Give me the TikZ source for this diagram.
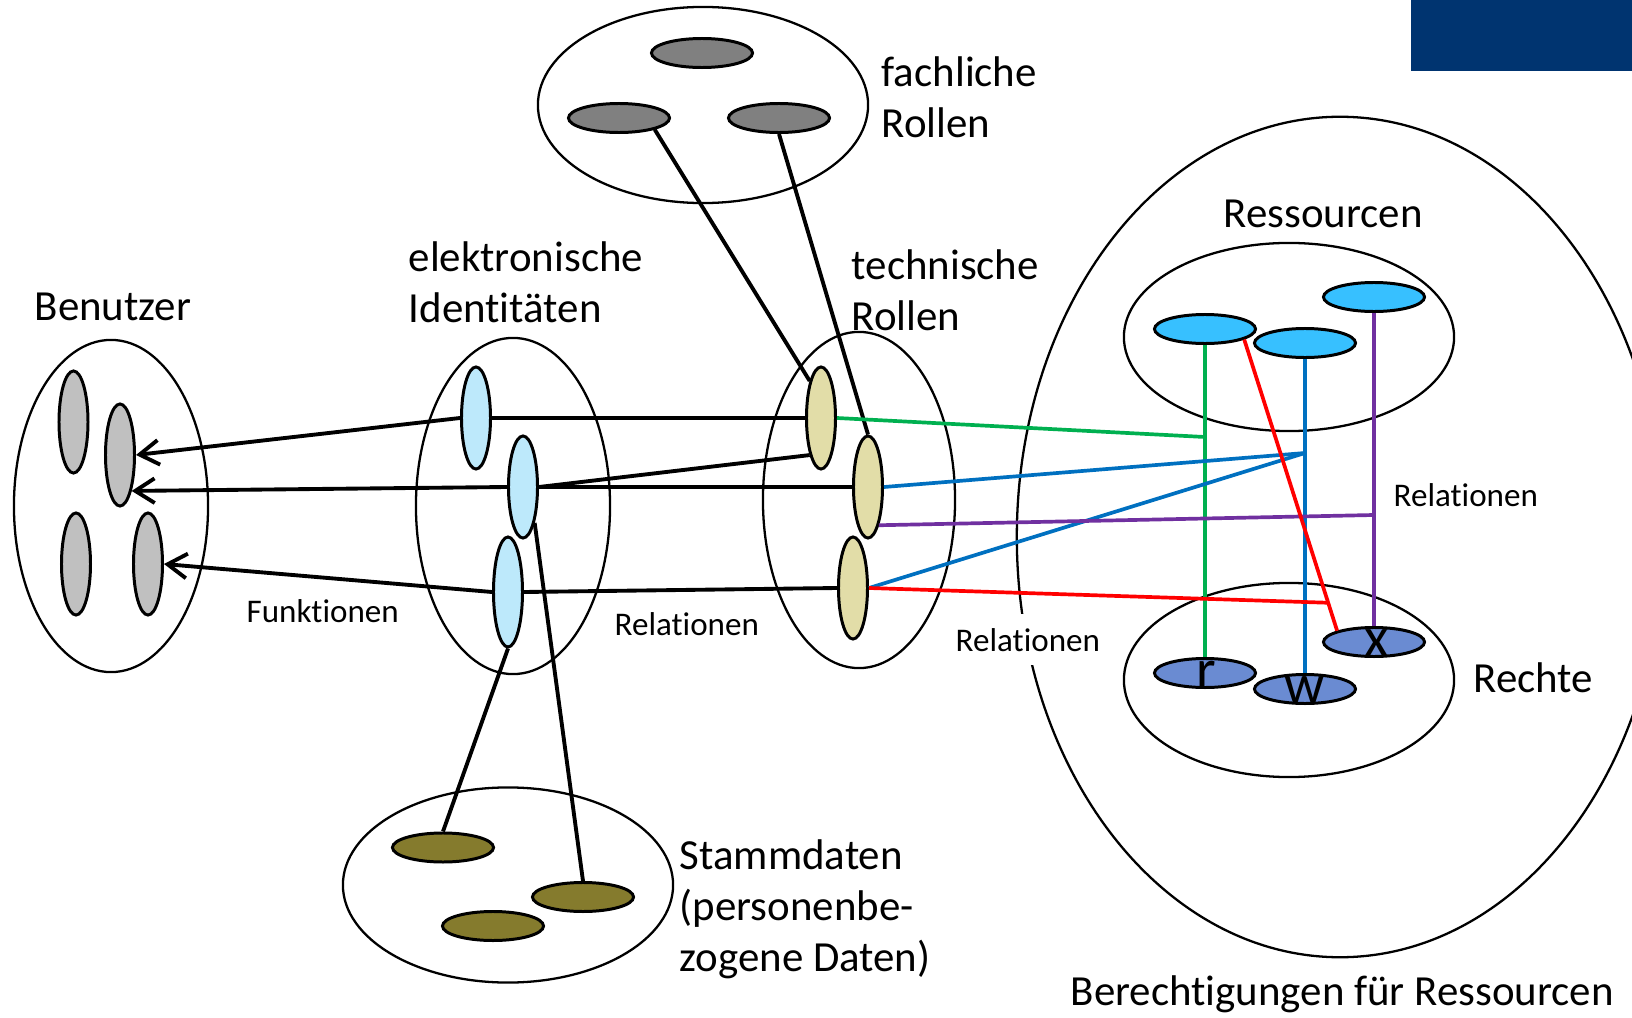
\documentclass[tikz,border=0pt]{standalone}
\usepackage{fontspec}
\setmainfont[Ligatures=NoCommon]{Carlito}
\usetikzlibrary{arrows.meta,calc,shapes.geometric}
\definecolor{usergray}{HTML}{C0C0C0}
\definecolor{idblue}{HTML}{BDE9FB}
\definecolor{roletan}{HTML}{E2DDA8}
\definecolor{fachgray}{HTML}{808080}
\definecolor{stammolive}{HTML}{857B2D}
\definecolor{resblue}{HTML}{37C0FF}
\definecolor{rightblue}{HTML}{6A8BD2}
\definecolor{cornerblue}{HTML}{003470}
\definecolor{lgreen}{HTML}{00B050}
\definecolor{lblue}{HTML}{0070C0}
\definecolor{lred}{HTML}{FF0000}
\definecolor{lpurple}{HTML}{7030A0}
\tikzset{
 setell/.style={ellipse, draw, line width=0.65pt, inner sep=0pt},
 vell/.style={ellipse, draw, line width=0.85pt, inner sep=0pt, minimum width=0.29cm, minimum height=1.02cm},
 hell/.style={ellipse, draw, line width=0.85pt, inner sep=0pt, minimum width=1.01cm, minimum height=0.29cm},
 conn/.style={line width=1.1pt},
 farrow/.style={conn, -{Straight Barb[length=5.5pt,width=7pt,line width=1.1pt]}},
 colline/.style={line width=1.05pt},
 biglabel/.style={font=\fontsize{12.2pt}{14.4pt}\selectfont, inner sep=0pt, anchor=base west, align=left},
 smalllabel/.style={font=\fontsize{9.4pt}{11pt}\selectfont, inner sep=0pt, anchor=base west},
 letter/.style={font=\fontsize{16pt}{18pt}\selectfont, inner sep=0pt, anchor=base},
}
\begin{document}
\begin{tikzpicture}[x=0.01cm,y=-0.01cm]
\useasboundingbox (0,0) rectangle (1632,1018);
\clip (0,0) rectangle (1632,1018);
\fill[cornerblue] (1411,0) rectangle (1632,71);

% sets
\node[setell, minimum width=1.94cm, minimum height=3.32cm] (U) at (111,506) {};
\node[setell, minimum width=1.94cm, minimum height=3.36cm] (I) at (513,506) {};
\node[setell, minimum width=1.92cm, minimum height=3.36cm] (T) at (859,500) {};
\node[setell, minimum width=3.30cm, minimum height=1.96cm] (F) at (703,105) {};
\node[setell, minimum width=3.30cm, minimum height=1.95cm] (S) at (508,885) {};
\node[setell, minimum width=6.46cm, minimum height=8.40cm] (B) at (1340,537) {};
\node[setell, minimum width=3.30cm, minimum height=1.88cm] (R) at (1289,337) {};
\node[setell, minimum width=3.30cm, minimum height=1.94cm] (Rt) at (1289,680) {};

% members
\node[vell, fill=usergray] (g1) at (73.5,422) {};
\node[vell, fill=usergray] (g2) at (120,455) {};
\node[vell, fill=usergray] (g3) at (76,564) {};
\node[vell, fill=usergray] (g4) at (148,564) {};
\node[vell, fill=idblue] (b1) at (476,418) {};
\node[vell, fill=idblue] (b2) at (523,487) {};
\node[vell, fill=idblue, minimum height=1.10cm] (b3) at (508,592) {};
\node[vell, fill=roletan] (t1) at (821,418) {};
\node[vell, fill=roletan] (t2) at (868,487) {};
\node[vell, fill=roletan] (t3) at (853,588) {};
\node[hell, fill=fachgray] (f1) at (702,53) {};
\node[hell, fill=fachgray] (f2) at (619,118) {};
\node[hell, fill=fachgray] (f3) at (779,118) {};
\node[hell, fill=stammolive] (s1) at (443,847.5) {};
\node[hell, fill=stammolive] (s2) at (583,897) {};
\node[hell, fill=stammolive] (s3) at (493,926) {};
\node[hell, fill=resblue] (r1) at (1205,329) {};
\node[hell, fill=resblue] (r2) at (1305,343) {};
\node[hell, fill=resblue] (r3) at (1374,297) {};
\node[hell, fill=rightblue] (rr) at (1205,673) {};
\node[hell, fill=rightblue] (rw) at (1305,689) {};
\node[hell, fill=rightblue] (rx) at (1374,642) {};

% junctions
\coordinate (gj) at (1205,437);
\coordinate (bj) at (1305,453);
\coordinate (pj) at (1374,515);
\coordinate (rj) at ($(r1.-15)!0.904!(rx.163)$);

% black connectors
\draw[farrow] (b1.west) -- (g2.east);
\draw[farrow] (b2.west) -- (g2.-72);
\draw[farrow] (b3.west) -- (g4.east);
\draw[conn] (b1.east) -- (t1.west);
\draw[conn] (b2.east) -- (t1.-107);
\draw[conn] (b2.east) -- (t2.west);
\draw[conn] (b3.east) -- (t3.west);
\draw[conn] (b3.south) -- (s1.north);
\draw[conn] (b2.-72) -- (s2.north);
\draw[conn] (f2.-18) -- (t1.107);
\draw[conn] (f3.south) -- (t2.north);

% coloured connectors
\draw[colline, lgreen] (r1.south) -- (rr.north);
\draw[colline, lgreen] (t1.east) -- (gj);
\draw[colline, lblue] (r2.south) -- (rw.north);
\draw[colline, lblue] (t2.east) -- (bj);
\draw[colline, lblue] (t3.east) -- (bj);
\draw[colline, lpurple] (r3.south) -- (rx.north);
\draw[colline, lpurple] (t2.-74) -- (pj);
\draw[colline, lred] (r1.-15) -- (rx.163);
\draw[colline, lred] (t3.east) -- (rj);

% letters
\node[letter] (lr) at (1206,688) {r};
\node[letter] (lw) at (1305,703) {w};
\node[letter] (lx) at (1377,656) {x};

% labels
\node[biglabel] (lbU) at (34,320) {Benutzer};
\node[biglabel] (lbI) at (408,322) {elektronische\\Identitäten};
\node[biglabel] (lbT) at (851,330) {technische\\Rollen};
\node[biglabel] (lbF) at (881,137) {fachliche\\Rollen};
\node[biglabel] (lbR) at (1223,227) {Ressourcen};
\node[biglabel] (lbRt) at (1473,692) {Rechte};
\node[biglabel] (lbS) at (679,971) {Stammdaten\\(personenbe-\\zogene Daten)};
\node[biglabel] (lbB) at (1070,1005) {Berechtigungen für Ressourcen};
\node[smalllabel] (lf) at (246,622) {Funktionen};
\node[smalllabel] (lrel1) at (614,635) {Relationen};
\node[smalllabel, fill=white, inner xsep=2pt, inner ysep=4pt] (lrel2) at (948,651) {Relationen};
\node[smalllabel] (lrel3) at (1393,506) {Relationen};
\end{tikzpicture}
\end{document}
